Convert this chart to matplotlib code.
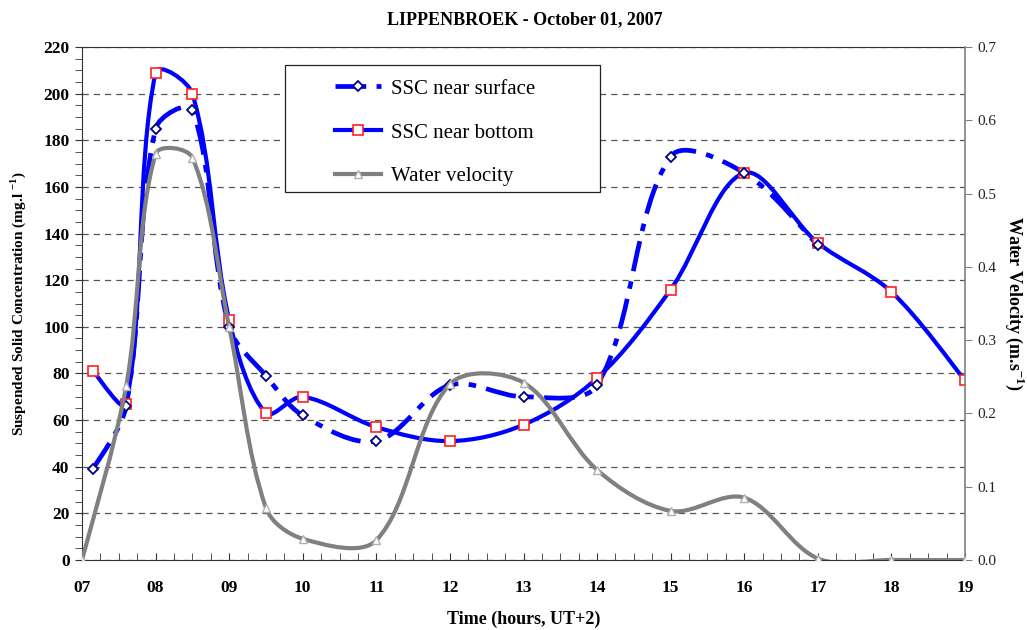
import numpy as np
import matplotlib
matplotlib.use("Agg")
import matplotlib.pyplot as plt
from matplotlib.path import Path
from matplotlib.patches import PathPatch, Rectangle
from matplotlib.lines import Line2D
from matplotlib.ticker import MultipleLocator, FormatStrFormatter

# values
hours_surface = [7.15, 7.6, 8.0, 8.5, 9.0, 9.5, 10, 11, 12, 13, 14, 15, 16, 17]
ssc_surface = [39, 66, 185, 193, 100, 79, 62, 51, 75, 70, 75, 173, 166, 135]

hours_bottom = [7.15, 7.6, 8.0, 8.5, 9.0, 9.5, 10, 11, 12, 13, 14, 15, 16, 17, 18, 19]
ssc_bottom = [81, 67, 209, 200, 103, 63, 70, 57, 51, 58, 78, 116, 166, 136, 115, 77]

hours_velocity = [7.0, 7.6, 8.0, 8.5, 9.0, 9.5, 10, 11, 12, 13, 14, 15, 16, 17, 18, 19]
velocity = [0.0, 0.237, 0.554, 0.549, 0.318, 0.071, 0.029, 0.027, 0.24, 0.242,
            0.123, 0.067, 0.085, 0.002, 0.0, 0.0]

hour_ticks = list(range(7, 20))
hour_labels = [f"{h:02d}" for h in hour_ticks]

plt.rcParams["font.family"] = ["Liberation Serif", "DejaVu Serif"]
plt.rcParams["mathtext.fontset"] = "custom"
plt.rcParams["mathtext.rm"] = "Liberation Serif"
plt.rcParams["mathtext.bf"] = "Liberation Serif:bold"

# axes box in pixels
AX_W, AX_H = 883, 513


def smooth_path(x, y, ymax, xspan=12):
    """Excel-like smoothed line: cubic Bezier segments through the points,
    tangents weighted by the on-screen segment lengths."""
    pts = np.column_stack([np.asarray(x, float), np.asarray(y, float)])
    scale = np.array([AX_W / xspan, AX_H / ymax])
    n = len(pts)
    d = np.hypot(*((pts[1:] - pts[:-1]) * scale).T)

    def tangent(i):
        a = pts[i - 1] if i > 0 else pts[i]
        b = pts[i + 1] if i < n - 1 else pts[i]
        return b - a

    def seg(i):
        return d[min(max(i, 0), n - 2)]

    verts = [pts[0]]
    codes = [Path.MOVETO]
    for i in range(n - 1):
        w1 = d[i] / (seg(i - 1) + d[i]) / 3
        w2 = d[i] / (d[i] + seg(i + 1)) / 3
        verts += [pts[i] + tangent(i) * w1,
                  pts[i + 1] - tangent(i + 1) * w2,
                  pts[i + 1]]
        codes += [Path.CURVE4] * 3
    return Path(verts, codes)


blue = "#0000ff"
gray = "#808080"
surf_dash = (0, (6.5, 2.2, 1.6, 2.2))

fig = plt.figure(figsize=(10.27, 6.30), dpi=100)
ax = fig.add_axes([82 / 1027, 70 / 630, AX_W / 1027, AX_H / 630])
ax2 = ax.twinx()

# SSC near bottom
ax.add_patch(PathPatch(smooth_path(hours_bottom, ssc_bottom, 220), fill=False,
                       edgecolor=blue, lw=3.0, zorder=3, capstyle="butt"))
ax.plot(hours_bottom, ssc_bottom, ls="none", marker="s", ms=7,
        mfc="white", mec="#ff2020", mew=1.2, zorder=5)

# SSC near surface
ax.add_patch(PathPatch(smooth_path(hours_surface, ssc_surface, 220), fill=False,
                       edgecolor=blue, lw=3.4, ls=surf_dash, zorder=4,
                       capstyle="butt"))
ax.plot(hours_surface, ssc_surface, ls="none", marker="D", ms=5.5,
        mfc="white", mec="#000080", mew=1.3, zorder=6)

# water velocity
ax2.add_patch(PathPatch(smooth_path(hours_velocity, velocity, 0.7), fill=False,
                        edgecolor=gray, lw=3.0, zorder=3))
ax2.plot(hours_velocity, velocity, ls="none", marker="^", ms=6,
         mfc="white", mec="#b0b0b0", mew=1.0, zorder=4)

ax.set_xlim(7, 19)
ax.set_ylim(0, 220)
ax2.set_ylim(0, 0.7)

ax.grid(axis="y", which="major", ls=(0, (5, 4)), color="#555555", lw=0.9)
ax.set_axisbelow(True)

ax.set_xticks(hour_ticks)
ax.set_xticklabels(hour_labels)
ax.xaxis.set_minor_locator(MultipleLocator(0.25))
ax.yaxis.set_major_locator(MultipleLocator(20))
ax.yaxis.set_minor_locator(MultipleLocator(5))
ax2.yaxis.set_major_locator(MultipleLocator(0.1))
ax2.yaxis.set_major_formatter(FormatStrFormatter("%.1f"))

ax.tick_params(axis="x", which="both", direction="in", length=5,
               color="#333333", labelsize=12.5, pad=14.5, top=False)
ax.tick_params(axis="y", which="both", direction="out", length=5,
               color="#333333", labelsize=12.5, pad=4)
ax2.tick_params(axis="y", which="both", direction="out", length=5,
                color=gray, labelsize=11, pad=4, labelcolor="#222222")
for lab in ax.get_xticklabels() + ax.get_yticklabels():
    lab.set_fontweight("bold")

for s in ["left", "top", "bottom"]:
    ax.spines[s].set_color("#333333")
ax.spines["right"].set_visible(False)
for s in ["left", "top", "bottom"]:
    ax2.spines[s].set_visible(False)
ax2.spines["right"].set_color(gray)
ax2.spines["right"].set_linewidth(1.2)

ax.set_xlabel("Time (hours, UT+2)", fontsize=13, fontweight="bold")
ax.xaxis.set_label_coords(0.5, -0.115)
ax.xaxis.label.set_va("center")
ax.set_ylabel(r"Suspended Solid Concentration (mg.l $^{\mathbf{-1}}$)",
              fontsize=11, fontweight="bold")
ax.yaxis.set_label_coords(-0.0725, 0.5)
ax.yaxis.label.set_va("center")
ax2.set_ylabel(r"Water Velocity (m.s$^{\mathbf{-1}}$)", fontsize=13,
               fontweight="bold", rotation=270)
ax2.yaxis.set_label_coords(1.0566, 0.5)
ax2.yaxis.label.set_va("center")

fig.text(525 / 1027, 1 - 20 / 630, "LIPPENBROEK - October 01, 2007",
         ha="center", va="center", fontsize=13, fontweight="bold")

# legend box (frame drawn separately to get the wide side padding)
ax2.add_patch(Rectangle((203 / AX_W, 368 / AX_H), 315 / AX_W, 127 / AX_H,
                        transform=ax2.transAxes, facecolor="white",
                        edgecolor="#222222", lw=0.9, zorder=10))
handles = [
    Line2D([], [], color=blue, lw=3.4, ls=surf_dash, marker="D", ms=5.5,
           mfc="white", mec="#000080", mew=1.3),
    Line2D([], [], color=blue, lw=3.0, marker="s", ms=7,
           mfc="white", mec="#ff2020", mew=1.2),
    Line2D([], [], color=gray, lw=3.0, marker="^", ms=6,
           mfc="white", mec="#b0b0b0", mew=1.0),
]
labels = ["SSC near surface", "SSC near bottom", "Water velocity"]
leg = ax2.legend(handles, labels, loc="upper left",
                 bbox_to_anchor=(253 / AX_W, 481 / AX_H), fontsize=15,
                 frameon=False, handlelength=2.2, labelspacing=1.17,
                 borderpad=0, handletextpad=0.5, borderaxespad=0)
leg.set_zorder(11)

fig.savefig("out.png", dpi=100)
